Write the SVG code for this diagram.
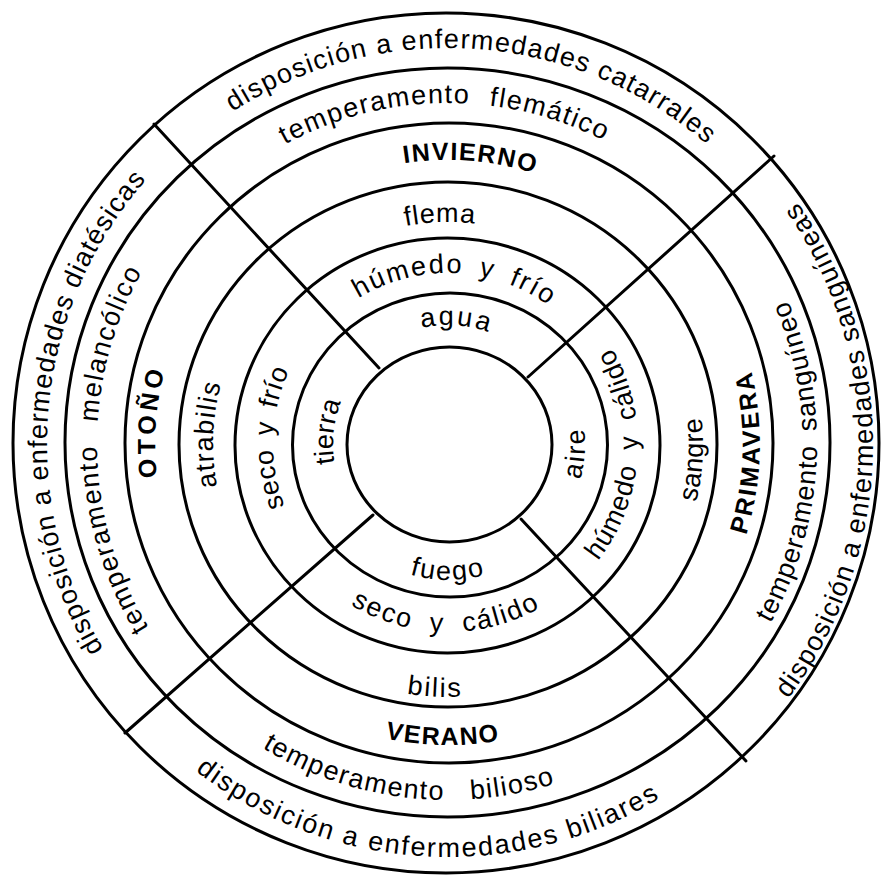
<svg xmlns="http://www.w3.org/2000/svg" xmlns:xlink="http://www.w3.org/1999/xlink" width="881" height="880" viewBox="0 0 881 880">
<style>
.ring{fill:none;stroke:#000;stroke-width:3}
.div{stroke:#000;stroke-width:3;stroke-linecap:round}
text{font-family:"Liberation Sans",Arial,sans-serif;font-size:27px;fill:#000}
.b{font-weight:bold;font-size:25px}
</style>
<defs>
<path id="cw119" d="M329 444 A119 119 0 0 1 567 444"/>
<path id="cw171" d="M277 444 A171 171 0 0 1 619 444"/>
<path id="cw222" d="M226 444 A222 222 0 0 1 670 444"/>
<path id="cw284" d="M164 444 A284 284 0 0 1 732 444"/>
<path id="cw341" d="M107 444 A341 341 0 0 1 789 444"/>
<path id="cw396" d="M52 444 A396 396 0 0 1 844 444"/>
<path id="cw115" d="M333 444 A115 115 0 0 1 563 444"/>
<path id="cw175" d="M273 444 A175 175 0 0 1 623 444"/>
<path id="cw235" d="M213 444 A235 235 0 0 1 683 444"/>
<path id="cw293" d="M155 444 A293 293 0 0 1 741 444"/>
<path id="cw351" d="M97 444 A351 351 0 0 1 799 444"/>
<path id="cw401" d="M47 444 A401 401 0 0 1 849 444"/>
<path id="cc136" d="M312 444 A136 136 0 0 0 584 444"/>
<path id="cc188" d="M260 444 A188 188 0 0 0 636 444"/>
<path id="cc253" d="M195 444 A253 253 0 0 0 701 444"/>
<path id="cc301" d="M147 444 A301 301 0 0 0 749 444"/>
<path id="cc356" d="M92 444 A356 356 0 0 0 804 444"/>
<path id="cc413" d="M35 444 A413 413 0 0 0 861 444"/>
<path id="cc137" d="M311 444 A137 137 0 0 0 585 444"/>
<path id="cc190" d="M258 444 A190 190 0 0 0 638 444"/>
<path id="cc255" d="M193 444 A255 255 0 0 0 703 444"/>
<path id="cc312" d="M136 444 A312 312 0 0 0 760 444"/>
<path id="cc369" d="M79 444 A369 369 0 0 0 817 444"/>
<path id="cc425" d="M23 444 A425 425 0 0 0 873 444"/>
</defs>
<rect width="881" height="880" fill="#fff"/>
<g id="rings">
<ellipse class="ring" cx="449.5" cy="444.5" rx="102.5" ry="97.5"/>
<ellipse class="ring" cx="450" cy="445" rx="157.5" ry="152"/>
<ellipse class="ring" cx="447.5" cy="445.5" rx="212.5" ry="207.5"/>
<ellipse class="ring" cx="448" cy="444.5" rx="269" ry="262.5"/>
<ellipse class="ring" cx="449" cy="443" rx="324" ry="320"/>
<ellipse class="ring" cx="447.5" cy="442.5" rx="382.5" ry="374.5"/>
<ellipse class="ring" cx="446" cy="443" rx="433" ry="430"/>
</g>
<g id="connectors">
<line class="div" x1="154" y1="124" x2="379" y2="368"/>
<line class="div" x1="774" y1="156" x2="528" y2="377"/>
<line class="div" x1="125" y1="733" x2="373" y2="515"/>
<line class="div" x1="746" y1="761" x2="521" y2="519"/>
</g>
<g id="invierno" text-anchor="middle">
<text transform="rotate(4 448 444)" letter-spacing="2.5"><textPath href="#cw119" startOffset="50%">agua</textPath></text>
<text transform="rotate(2.4 448 444)" letter-spacing="2" word-spacing="6"><textPath href="#cw171" startOffset="50%">húmedo y frío</textPath></text>
<text transform="rotate(-2 448 444)" letter-spacing="0.8"><textPath href="#cw222" startOffset="50%">flema</textPath></text>
<text class="b" transform="rotate(4.5 448 444)" letter-spacing="1.5"><textPath href="#cw284" startOffset="50%">INVIERNO</textPath></text>
<text transform="rotate(-0.6 448 444)" letter-spacing="1.5" word-spacing="10"><textPath href="#cw341" startOffset="50%">temperamento flemático</textPath></text>
<text transform="rotate(4 448 444)" letter-spacing="1.3"><textPath href="#cw396" startOffset="50%">disposición a enfermedades catarrales</textPath></text>
</g>
<g id="otono" text-anchor="middle">
<text transform="rotate(-84 448 444)" letter-spacing="0.2"><textPath href="#cw115" startOffset="50%">tierra</textPath></text>
<text transform="rotate(-88 448 444)" letter-spacing="0.5" word-spacing="5"><textPath href="#cw175" startOffset="50%">seco y frío</textPath></text>
<text transform="rotate(-87.7 448 444)" letter-spacing="1.3"><textPath href="#cw235" startOffset="50%">atrabilis</textPath></text>
<text class="b" transform="rotate(-85.7 448 444)" letter-spacing="4"><textPath href="#cw293" startOffset="50%">OTOÑO</textPath></text>
<text transform="rotate(-91 448 444)" letter-spacing="1.5" word-spacing="14"><textPath href="#cw351" startOffset="50%">temperamento melancólico</textPath></text>
<text transform="rotate(-84.7 448 444)" letter-spacing="1.1"><textPath href="#cw401" startOffset="50%">disposición a enfermedades diatésicas</textPath></text>
</g>
<g id="verano" text-anchor="middle">
<text letter-spacing="2"><textPath href="#cc136" startOffset="50%">fuego</textPath></text>
<text transform="rotate(0.7 448 444)" letter-spacing="2" word-spacing="9"><textPath href="#cc188" startOffset="50%">seco y cálido</textPath></text>
<text transform="rotate(3 448 444)" letter-spacing="2"><textPath href="#cc253" startOffset="50%">bilis</textPath></text>
<text class="b" transform="rotate(1 448 444)" letter-spacing="1.6"><textPath href="#cc301" startOffset="50%">VERANO</textPath></text>
<text transform="rotate(6.9 448 444)" letter-spacing="1.5" word-spacing="17"><textPath href="#cc356" startOffset="50%">temperamento bilioso</textPath></text>
<text transform="rotate(3.3 448 444)" letter-spacing="1.9"><textPath href="#cc413" startOffset="50%">disposición a enfermedades biliares</textPath></text>
</g>
<g id="primavera" text-anchor="middle">
<text transform="rotate(-86 448 444)" letter-spacing="2"><textPath href="#cc137" startOffset="50%">aire</textPath></text>
<text transform="rotate(-86.4 448 444)" letter-spacing="1" word-spacing="8"><textPath href="#cc190" startOffset="50%">húmedo y cálido</textPath></text>
<text transform="rotate(-86.4 448 444)" letter-spacing="0.5"><textPath href="#cc255" startOffset="50%">sangre</textPath></text>
<text class="b" transform="rotate(-88.4 448 444)" letter-spacing="2.2"><textPath href="#cc312" startOffset="50%">PRIMAVERA</textPath></text>
<text transform="rotate(-87 448 444)" letter-spacing="1" word-spacing="6"><textPath href="#cc369" startOffset="50%">temperamento sanguíneo</textPath></text>
<text transform="rotate(-89 448 444)" letter-spacing="1.3"><textPath href="#cc425" startOffset="50%">disposición a enfermedades sanguíneas</textPath></text>
</g>
</svg>
